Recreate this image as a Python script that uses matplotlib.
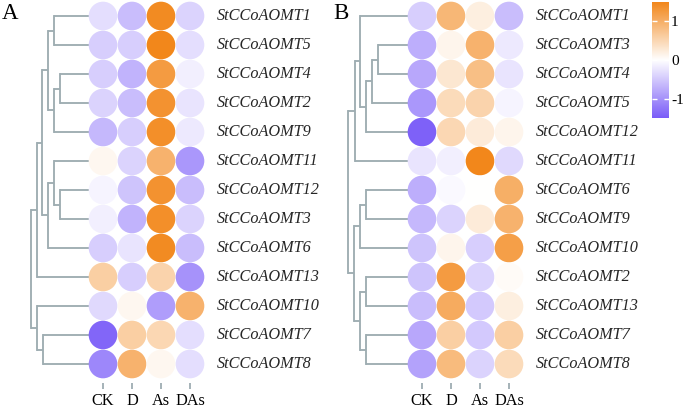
import numpy as np
import matplotlib
matplotlib.use("Agg")
import matplotlib.pyplot as plt
from matplotlib.colors import LinearSegmentedColormap

# %% data
samples = ["CK", "D", "As", "DAs"]

genes_A = ["StCCoAOMT1", "StCCoAOMT5", "StCCoAOMT4", "StCCoAOMT2", "StCCoAOMT9",
           "StCCoAOMT11", "StCCoAOMT12", "StCCoAOMT3", "StCCoAOMT6", "StCCoAOMT13",
           "StCCoAOMT10", "StCCoAOMT7", "StCCoAOMT8"]
values_A = [[-0.30, -0.60, 1.45, -0.40],
            [-0.45, -0.45, 1.50, -0.30],
            [-0.45, -0.70, 1.25, -0.15],
            [-0.40, -0.60, 1.35, -0.25],
            [-0.65, -0.45, 1.40, -0.20],
            [0.10, -0.40, 0.95, -0.95],
            [-0.10, -0.55, 1.35, -0.60],
            [-0.15, -0.70, 1.40, -0.40],
            [-0.45, -0.25, 1.45, -0.60],
            [0.60, -0.45, 0.55, -1.00],
            [-0.35, 0.10, -0.90, 0.95],
            [-1.40, 0.60, 0.50, -0.30],
            [-1.10, 0.95, 0.10, -0.30]]
# merges (left, right, height); leaves are 0..12, new clusters 13..
tree_A = [(0, 1, 35), (2, 3, 29), (14, 4, 35), (13, 15, 41), (6, 7, 29),
          (5, 17, 35), (18, 8, 41), (16, 19, 47), (20, 9, 52), (11, 12, 46),
          (10, 22, 52), (21, 23, 58)]

genes_B = ["StCCoAOMT1", "StCCoAOMT3", "StCCoAOMT4", "StCCoAOMT5", "StCCoAOMT12",
           "StCCoAOMT11", "StCCoAOMT6", "StCCoAOMT9", "StCCoAOMT10", "StCCoAOMT2",
           "StCCoAOMT13", "StCCoAOMT7", "StCCoAOMT8"]
values_B = [[-0.45, 0.90, 0.20, -0.60],
            [-0.75, 0.12, 0.95, -0.20],
            [-0.80, 0.30, 0.80, -0.25],
            [-0.95, 0.45, 0.55, -0.10],
            [-1.45, 0.50, 0.25, 0.12],
            [-0.25, -0.15, 1.50, -0.35],
            [-0.75, -0.05, 0.00, 1.00],
            [-0.65, -0.40, 0.25, 0.95],
            [-0.55, 0.12, -0.45, 1.20],
            [-0.55, 1.25, -0.40, 0.05],
            [-0.60, 1.05, -0.50, 0.20],
            [-0.80, 0.60, -0.50, 0.60],
            [-0.85, 0.85, -0.40, 0.45]]
tree_B = [(1, 2, 30), (13, 3, 36), (14, 4, 42), (0, 15, 48), (16, 5, 53),
          (6, 7, 42), (18, 8, 48), (9, 10, 42), (11, 12, 42), (20, 21, 48),
          (19, 22, 54), (17, 23, 60)]

# %% style
W, H = 685, 409
PX = 29.0  # pixels per cell
cmap = LinearSegmentedColormap.from_list("pw", ["#7A5CF8", "#FFFFFF", "#F2871B"])
vmin, vmax = -1.5, 1.5
line_col = "#9EADB2"
serif = ["Liberation Serif", "DejaVu Serif"]

fig = plt.figure(figsize=(W / 100, H / 100), dpi=100)


def draw_panel(x0px, genes, vals, tree, letter, letter_x):
    # x0px: pixel x of first column centre
    xlim = (-3.0, 3.6)
    ylim = (12.65, -0.55)
    left = x0px + xlim[0] * PX
    width = (xlim[1] - xlim[0]) * PX
    top = 16 + ylim[1] * PX
    height = (ylim[0] - ylim[1]) * PX
    ax = fig.add_axes([left / W, 1 - (top + height) / H, width / W, height / H])
    ax.set_xlim(xlim)
    ax.set_ylim(ylim)

    vals = np.array(vals)
    xx, yy = np.meshgrid(np.arange(len(samples)), np.arange(len(genes)))
    ax.scatter(xx.ravel(), yy.ravel(), c=vals.ravel(), cmap=cmap, vmin=vmin, vmax=vmax,
               s=425, linewidths=0, zorder=3)

    for i, g in enumerate(genes):
        ax.text(3.92, i, g, ha="left", va="center", fontsize=11.7, style="italic",
                family=serif, color="#262626")

    # dendrogram
    ypos = {i: float(i) for i in range(len(genes))}
    hpos = {i: 0.0 for i in range(len(genes))}
    for k, (a, b, h) in enumerate(tree):
        node = len(genes) + k
        xh = -0.5 - h / PX
        for c in (a, b):
            ax.plot([-0.5 - hpos[c] / PX, xh], [ypos[c], ypos[c]], color=line_col, lw=1.35,
                    solid_capstyle="butt", zorder=1)
        ax.plot([xh, xh], [ypos[a], ypos[b]], color=line_col, lw=1.35,
                solid_capstyle="projecting", zorder=1)
        ypos[node] = (ypos[a] + ypos[b]) / 2
        hpos[node] = h

    ax.set_xticks(range(len(samples)))
    ax.set_xticklabels(samples, family=serif, fontsize=11.7)
    ax.set_yticks([])
    ax.tick_params(axis="x", length=4, width=1.3, color=line_col, pad=3)
    for s in ax.spines.values():
        s.set_visible(False)

    fig.text(letter_x / W, 1 - 3 / H, letter, family=serif, fontsize=16.5, ha="left", va="top")
    return ax


draw_panel(103, genes_A, values_A, tree_A, "A", 2)
draw_panel(422, genes_B, values_B, tree_B, "B", 333)

# %% colour bar
cax = fig.add_axes([652 / W, 1 - 118 / H, 17 / W, 116 / H])
grad = np.linspace(vmin, vmax, 256).reshape(-1, 1)
cax.imshow(grad, cmap=cmap, vmin=vmin, vmax=vmax, aspect="auto", origin="lower",
           extent=[0, 1, vmin, vmax])
cax.set_xticks([])
cax.set_yticks([-1, 0, 1])
cax.set_yticklabels(["-1", "0", "1"], family=serif, fontsize=11)
cax.yaxis.set_ticks_position("both")
cax.tick_params(axis="y", direction="in", length=3.5, width=1, color="white",
                labelleft=False, labelright=True, pad=1.5)
for s in cax.spines.values():
    s.set_visible(False)

plt.savefig("out.png", dpi=100)
